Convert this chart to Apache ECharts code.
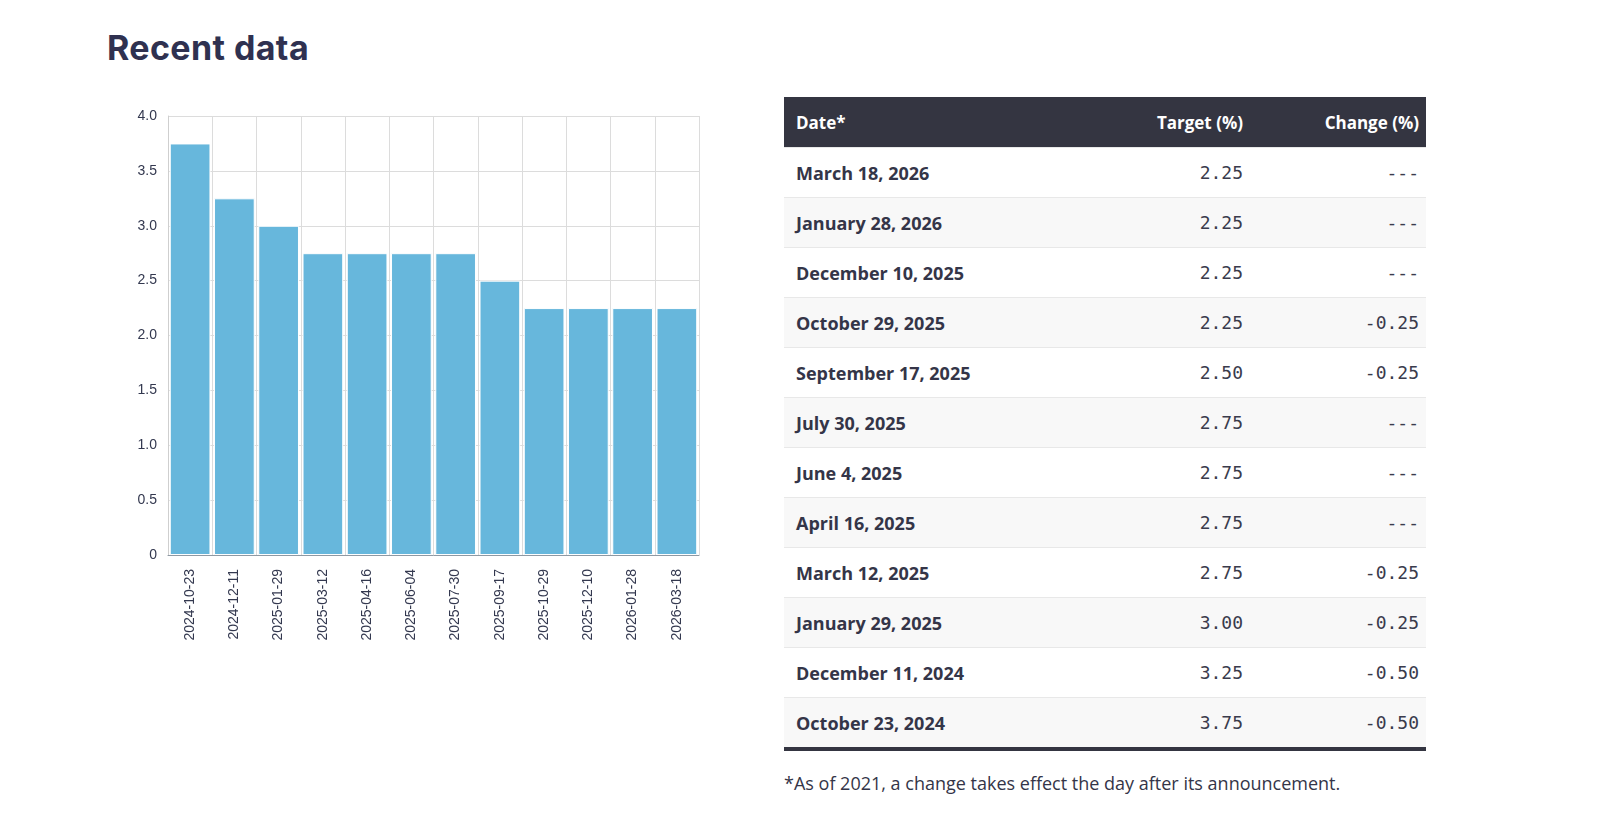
<!DOCTYPE html>
<html>
<head>
<meta charset="utf-8">
<title>Recent data</title>
<script src="https://cdn.jsdelivr.net/npm/echarts@6/dist/echarts.min.js"></script>
<style>
  body { margin: 0; background: #fff; width: 1600px; height: 822px; overflow: hidden; position: relative; }
  h2 {
    position: absolute; left: 107px; top: 27px; margin: 0;
    font-family: Inter, "Open Sans", sans-serif; font-weight: 700; font-size: 34px;
    color: #2f3150; letter-spacing: 0.4px;
  }
  #main { position: absolute; left: 0; top: 0; width: 760px; height: 700px; }
  table {
    position: absolute; left: 784px; top: 97px; width: 642px;
    border-collapse: collapse; font-family: "Open Sans", sans-serif; color: #343548;
    border-bottom: 4px solid #343541;
  }
  th {
    background: #343541; color: #fff; font-weight: 700; font-size: 17px;
    height: 50px; padding: 0 7px 0 12px; text-align: right;
  }
  th:first-child, td:first-child { text-align: left; }
  td {
    height: 49px; padding: 0 7px 0 12px; text-align: right;
    border-top: 1px solid #e8e8e8; font-size: 18px;
  }
  td.d { font-weight: 700; }
  td.n { font-family: "DejaVu Sans Mono", monospace; font-size: 18px; color: #3a3b4c; }
  tr:nth-child(even) td { background: #f8f8f8; }
  .note {
    position: absolute; left: 784px; top: 771px; margin: 0;
    font-family: "Open Sans", sans-serif; font-size: 18px; color: #343548;
  }
</style>
</head>
<body>
<h2>Recent data</h2>
<div id="main"></div>
<table id="rates">
  <thead><tr><th style="width:297px">Date*</th><th style="width:131px">Target (%)</th><th>Change (%)</th></tr></thead>
  <tbody></tbody>
</table>
<p class="note">*As of 2021, a change takes effect the day after its announcement.</p>
<script>
// chronological order, oldest first
var rateDates = ['2024-10-23', '2024-12-11', '2025-01-29', '2025-03-12', '2025-04-16', '2025-06-04',
                 '2025-07-30', '2025-09-17', '2025-10-29', '2025-12-10', '2026-01-28', '2026-03-18'];
var dateNames = ['October 23, 2024', 'December 11, 2024', 'January 29, 2025', 'March 12, 2025',
                 'April 16, 2025', 'June 4, 2025', 'July 30, 2025', 'September 17, 2025',
                 'October 29, 2025', 'December 10, 2025', 'January 28, 2026', 'March 18, 2026'];
var rateTargets = [3.75, 3.25, 3.00, 2.75, 2.75, 2.75, 2.75, 2.50, 2.25, 2.25, 2.25, 2.25];
var rateChanges = ['-0.50', '-0.50', '-0.25', '-0.25', '---', '---', '---', '-0.25', '-0.25', '---', '---', '---'];
var yTicks = { min: 0, max: 4, interval: 0.5 };

// table, newest first
var body = document.querySelector('#rates tbody');
for (var i = rateDates.length - 1; i >= 0; i--) {
    var tr = document.createElement('tr');
    tr.innerHTML = '<td class="d">' + dateNames[i] + '</td>' +
        '<td class="n">' + rateTargets[i].toFixed(2) + '</td>' +
        '<td class="n">' + rateChanges[i] + '</td>';
    body.appendChild(tr);
}

var myChart = echarts.init(document.getElementById('main'));
myChart.setOption({
    animation: false,
    grid: { left: 168, top: 116, width: 531, height: 439 },
    xAxis: {
        type: 'category',
        data: rateDates,
        axisLine: { lineStyle: { color: '#8f99a3' } },
        axisTick: { show: false },
        axisLabel: {
            rotate: 90, interval: 0, margin: 14,
            fontFamily: 'Liberation Sans, Arial', fontSize: 14, color: '#33384f'
        },
        splitLine: { show: true, interval: 0, lineStyle: { color: '#dcdcdc' } }
    },
    yAxis: {
        type: 'value',
        min: yTicks.min, max: yTicks.max, interval: yTicks.interval,
        axisLine: { show: true, lineStyle: { color: '#cfcfcf' } },
        axisTick: { show: false },
        axisLabel: {
            margin: 11, fontFamily: 'Liberation Sans, Arial', fontSize: 14, color: '#33384f',
            formatter: function (v) { return v === 0 ? '0' : v.toFixed(1); }
        },
        splitLine: { lineStyle: { color: '#dcdcdc' } }
    },
    series: [{
        type: 'bar',
        data: rateTargets,
        barCategoryGap: '8%',
        itemStyle: { color: '#67b7dc', borderColor: '#ffffff', borderWidth: 1 }
    }]
});
</script>
</body>
</html>
